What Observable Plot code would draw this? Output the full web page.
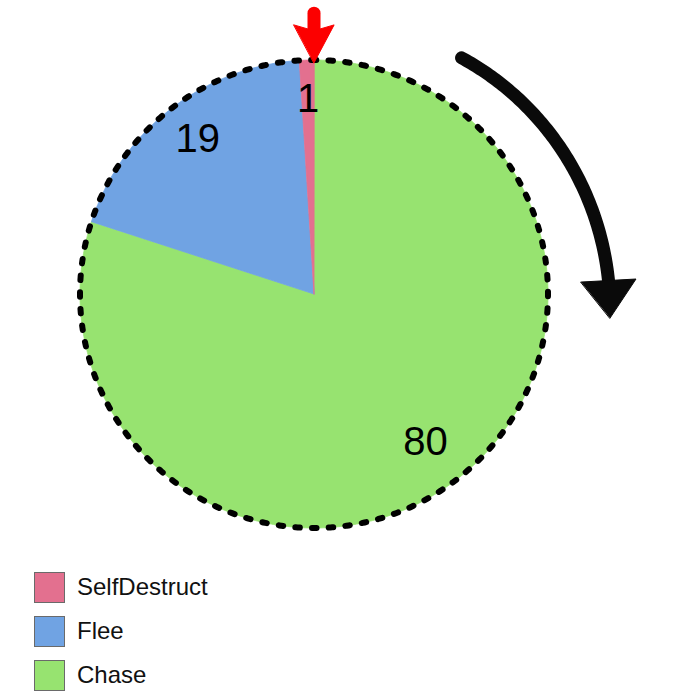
<!DOCTYPE html>
<html>
<head>
<meta charset="utf-8">
<script src="https://cdn.jsdelivr.net/npm/d3@7"></script>
<script src="https://cdn.jsdelivr.net/npm/@observablehq/plot@0.6"></script>
<style>
  html, body { margin: 0; padding: 0; background: #fff; }
  body { width: 700px; height: 700px; overflow: hidden; font-family: "Liberation Sans", Arial, sans-serif; }
  #legend { padding-left: 34px; padding-top: 7px; }
  .row { display: flex; align-items: center; height: 30px; margin-bottom: 14px; }
  .sw { width: 29px; height: 29px; border: 1px solid #6a6a6a; box-sizing: content-box; margin-right: 12px; }
  .lbl { font-size: 24px; color: #111; }
</style>
</head>
<body>
<div id="chart"></div>
<div id="legend"></div>
<script>
// ---- data ----
const categories = ["Chase", "Flee", "SelfDestruct"];   // clockwise from 12 o'clock
const values = [80, 19, 1];
const colors = ["#97e370", "#70a3e3", "#e3708f"];
const legendOrder = ["SelfDestruct", "Flee", "Chase"];

// ---- build slices in unit-circle data space ----
const pie = d3.pie().sort(null).value(d => d.value);
const arcs = pie(categories.map((c, i) => ({cat: c, value: values[i]})));

const slicePts = [];
arcs.forEach(a => {
  slicePts.push({cat: a.data.cat, x: 0, y: 0});
  const n = Math.max(2, Math.ceil((a.endAngle - a.startAngle) / (Math.PI / 360)));
  for (let k = 0; k <= n; k++) {
    const t = a.startAngle + (a.endAngle - a.startAngle) * k / n;
    slicePts.push({cat: a.data.cat, x: Math.sin(t), y: Math.cos(t)});
  }
});

const labelR = 0.81;
const labels = arcs.map(a => {
  const m = (a.startAngle + a.endAngle) / 2;
  return {text: String(a.data.value), x: labelR * Math.sin(m), y: labelR * Math.cos(m)};
});

const outline = d3.range(0, 721).map(k => {
  const t = k / 720 * 2 * Math.PI;
  return {x: Math.sin(t), y: Math.cos(t)};
});

// direction arrow (clockwise) around the pie
const deg = Math.PI / 180;
const spiral = d3.range(0, 101).map(k => {
  const a = (32 + (87.5 - 32) * k / 100) * deg;
  const r = 1.19 + 0.07 * k / 100;
  return {x: r * Math.sin(a), y: r * Math.cos(a)};
});
const blackHead = [{x: 1.141, y: 0.051}, {x: 1.376, y: 0.064}, {x: 1.265, y: -0.103}];
const redShaft = [{x: 0, y: 1.2}, {x: 0, y: 1.10}];
const redHead = [{x: -0.086, y: 1.15}, {x: 0, y: 1.125}, {x: 0.086, y: 1.15}, {x: 0, y: 0.988}];

const svg = Plot.plot({
  width: 700,
  height: 565,
  x: {domain: [-1, 1], range: [79.5, 547.5], axis: null},
  y: {domain: [-1, 1], range: [527.5, 59.5], axis: null},
  color: {domain: categories, range: colors},
  marks: [
    Plot.line(slicePts, {x: "x", y: "y", z: "cat", fill: "cat", stroke: "cat", strokeWidth: 0.8, curve: "linear-closed"}),
    Plot.line(outline, {x: "x", y: "y", stroke: "#000", strokeWidth: 6, strokeDasharray: "4.5 12.2", strokeDashoffset: 2.2, strokeLinecap: "round"}),
    Plot.text(labels, {x: "x", y: "y", text: "text", dy: -5, fontSize: 40, fontFamily: "Liberation Sans, Arial, sans-serif", fill: "#000"}),
    Plot.line(spiral, {x: "x", y: "y", stroke: "#0a0a0a", strokeWidth: 13, strokeLinecap: "round"}),
    Plot.line(blackHead, {x: "x", y: "y", fill: "#0a0a0a", stroke: "#0a0a0a", strokeWidth: 1, curve: "linear-closed"}),
    Plot.line(redShaft, {x: "x", y: "y", stroke: "#fc0000", strokeWidth: 13, strokeLinecap: "round"}),
    Plot.line(redHead, {x: "x", y: "y", fill: "#fc0000", stroke: "#fc0000", strokeWidth: 1, curve: "linear-closed"})
  ]
});
document.getElementById("chart").appendChild(svg);

const leg = document.getElementById("legend");
legendOrder.forEach(c => {
  const row = document.createElement("div");
  row.className = "row";
  const sw = document.createElement("div");
  sw.className = "sw";
  sw.style.background = colors[categories.indexOf(c)];
  const lb = document.createElement("span");
  lb.className = "lbl";
  lb.textContent = c;
  row.appendChild(sw); row.appendChild(lb);
  leg.appendChild(row);
});
</script>
</body>
</html>
